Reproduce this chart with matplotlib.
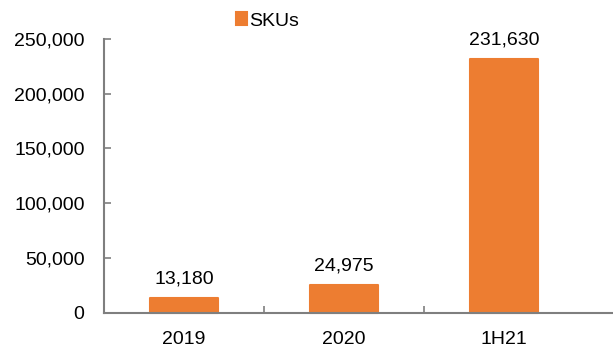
import numpy as np
import matplotlib.pyplot as plt
from matplotlib.ticker import FuncFormatter

plt.rcParams['font.family'] = ['Liberation Sans', 'DejaVu Sans']

periods = ['2019', '2020', '1H21']
skus = [13180, 24975, 231630]

orange = '#ED7D31'
grey = '#7F7F7F'

fig = plt.figure(figsize=(6.13, 3.47), dpi=100)
ax = fig.add_axes([104 / 613, 34.5 / 347, 509 / 613, 273.5 / 347])

x = np.arange(len(periods))
bars = ax.bar(x, skus, width=0.42, color=orange, edgecolor=orange, linewidth=1.5,
              joinstyle='round', label='SKUs', zorder=3, clip_on=False)

# value labels above each bar
for xi, v in zip(x, skus):
    ax.annotate(f'{v:,}', (xi, v), xytext=(0, 7.5), textcoords='offset points',
                ha='center', va='bottom', fontsize=14, color='black')

ax.set_ylim(0, 250000)
ax.set_xlim(-0.5, 2.5 + 29 / 160)
ax.set_yticks(np.arange(0, 250001, 50000))
ax.yaxis.set_major_formatter(FuncFormatter(lambda v, p: f'{int(v):,}'))

ax.set_xticks(x)
ax.set_xticklabels(periods)
ax.set_xticks([0.5, 1.5], minor=True)

ax.tick_params(axis='y', direction='in', length=5, width=1.2, color=grey, labelsize=14, pad=14)
ax.tick_params(axis='x', which='major', length=0, labelsize=14, pad=13)
ax.tick_params(axis='x', which='minor', direction='in', length=5, width=1.2, color=grey)

for side in ['top', 'right']:
    ax.spines[side].set_visible(False)
for side in ['left', 'bottom']:
    ax.spines[side].set_color(grey)
    ax.spines[side].set_linewidth(1.5)
ax.spines['bottom'].set_zorder(4)

fig.legend(handles=[bars], labels=['SKUs'], loc='center', bbox_to_anchor=(267.5 / 613, 1 - 21 / 347),
           frameon=False, fontsize=14, handlelength=0.6, handleheight=0.6, handletextpad=0.12,
           borderaxespad=0)

fig.savefig('out.png', dpi=100)
